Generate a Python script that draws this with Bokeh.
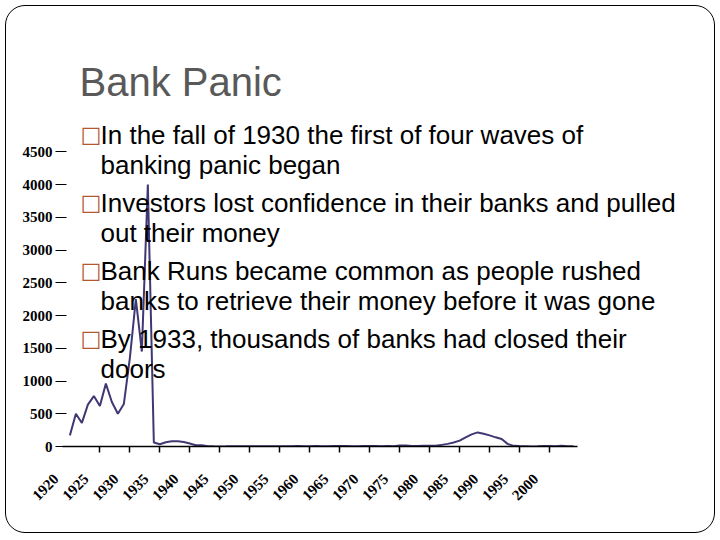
import math
from bokeh.plotting import figure
from bokeh.models import Range1d, FixedTicker, Label, LinearAxis, CustomJSTickFormatter
from bokeh.embed import file_html
from bokeh.resources import INLINE

# ---------------- data ----------------
years = list(range(1920, 2005))
failures = [
    170, 500, 360, 640, 770, 620, 960, 680, 500, 650,      # 1920-1929
    1350, 2250, 1450, 4000, 60, 35, 65, 80, 80, 70,       # 1930-1939
    45, 20, 20, 5, 2, 1, 2, 5, 3, 5,                      # 1940-1949
    5, 2, 3, 4, 3, 5, 2, 3, 9, 3,                         # 1950-1959
    2, 9, 3, 2, 8, 9, 8, 4, 3, 9,                         # 1960-1969
    8, 6, 3, 6, 4, 14, 17, 6, 7, 10,                      # 1970-1979
    10, 10, 25, 40, 60, 90, 140, 185, 215, 195,           # 1980-1989
    170, 140, 115, 40, 10, 6, 5, 1, 3, 8,                 # 1990-1999
    7, 4, 11, 3, 4,                                       # 2000-2004
]
tick_years = list(range(1925, 2001, 5))
label_years = list(range(1920, 2001, 5))
y_ticks = list(range(0, 4501, 500))

title_text = "Bank Panic"
bullets = [
    ["In the fall of 1930 the first of four waves of", "banking panic began"],
    ["Investors lost confidence in their banks and pulled", "out their money"],
    ["Bank Runs became common as people rushed", "banks to retrieve their money before it was gone"],
    ["By 1933, thousands of banks had closed their", "doors"],
]

# ---------------- figure ----------------
W, H = 710, 528
x_start = 1917.6          # frame left edge
p = figure(width=W, height=H, output_backend="svg", toolbar_location=None,
           x_range=Range1d(x_start, 2025.5), y_range=Range1d(0, 5100),
           min_border_left=49, min_border_right=14,
           min_border_top=106, min_border_bottom=88)
p.styles = {"border": "1px solid #000", "border-radius": "20px",
            "margin-left": "5px", "margin-top": "5px"}
p.border_fill_color = None
p.background_fill_color = None
p.outline_line_color = None
p.xgrid.visible = False
p.ygrid.visible = False

# slide title
p.title.text = title_text
p.title.text_font = "Liberation Sans"
p.title.text_font_size = "40px"
p.title.text_font_style = "normal"
p.title.text_color = "#595959"
p.title.align = "left"
p.title.offset = 24
p.title.standoff = 18

p.line(years, failures, line_color="#3F3872", line_width=2)

x_lo, x_hi = years[0] - 1.17, years[-1] + 0.6

# x axis: line and tick marks only (tick marks drawn as minor ticks, no labels)
xa = p.xaxis[0]
xa.ticker = FixedTicker(ticks=[], minor_ticks=tick_years)
xa.bounds = (x_lo, x_hi)
xa.axis_line_color = "black"
xa.axis_line_width = 1.5
xa.major_tick_in = 0
xa.major_tick_out = 6
xa.minor_tick_in = 0
xa.minor_tick_out = 6
xa.minor_tick_line_color = "black"
xa.minor_tick_line_width = 1.5
xa.major_label_standoff = 0

# x labels axis (labels sit a little left of their ticks, as in the original)
shift = 2.3
xl = LinearAxis(ticker=FixedTicker(ticks=[yr - shift for yr in label_years]),
                formatter=CustomJSTickFormatter(args=dict(shift=shift),
                                                code="return (tick + shift).toFixed(0);"))
xl.axis_line_color = None
xl.major_tick_line_color = None
xl.minor_tick_line_color = None
xl.major_label_orientation = math.pi / 4
xl.major_label_text_font = "Liberation Serif"
xl.major_label_text_font_style = "bold"
xl.major_label_text_font_size = "15px"
xl.major_label_text_color = "black"
xl.major_label_standoff = 18
p.add_layout(xl, "below")

# y axis
ya = p.yaxis[0]
ya.ticker = FixedTicker(ticks=y_ticks)
ya.bounds = (0, 4500)
ya.axis_line_color = None
ya.major_tick_in = 11
ya.major_tick_out = 0
ya.major_tick_line_width = 1.2
ya.minor_tick_line_color = None
ya.major_label_text_font = "Liberation Serif"
ya.major_label_text_font_style = "bold"
ya.major_label_text_font_size = "15px"
ya.major_label_text_color = "black"
ya.major_label_standoff = 3

# ---------------- bullet text ----------------
y0 = 312
line_gap = 30
bullet_gap = 38
yy = y0
for lines in bullets:
    p.add_layout(Label(x=25, y=yy, x_units="screen", y_units="screen", text="\u25a1",
                       text_font="DejaVu Sans", text_font_size="22px",
                       text_color="#B4582F", text_baseline="alphabetic"))
    for i, ln in enumerate(lines):
        p.add_layout(Label(x=45, y=yy - i * line_gap, x_units="screen", y_units="screen",
                           text=ln, text_font="Liberation Sans", text_font_size="26px",
                           text_color="black", text_baseline="alphabetic"))
    yy -= line_gap + bullet_gap

open("out.html", "w").write(file_html(p, INLINE))
